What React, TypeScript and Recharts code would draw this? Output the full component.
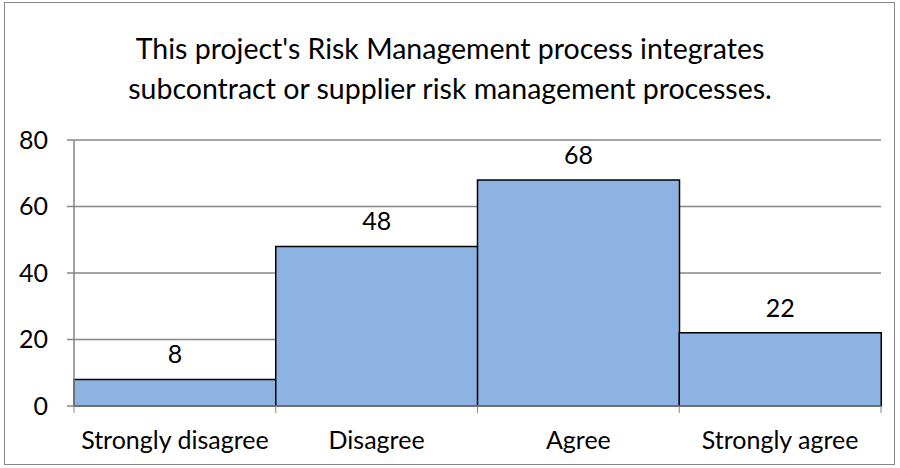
import { BarChart, Bar, XAxis, YAxis, CartesianGrid, LabelList } from 'recharts';

const categories = ['Strongly disagree', 'Disagree', 'Agree', 'Strongly agree'];
const counts = [8, 48, 68, 22];
const yTicks = [0, 20, 40, 60, 80];
const titleLines = [
  "This project's Risk Management process integrates",
  'subcontract or supplier risk management processes.',
];

const data = categories.map((name, i) => ({ name, value: counts[i] }));

const W = 900;
const H = 468;
const LEFT = 74;
const RIGHT = 19;
const FONT = 'Lato, "Open Sans", sans-serif';
const AXIS = '#868686';
const TEXT_SIZE = 25;

const bandWidth = (W - LEFT - RIGHT) / categories.length;

// ticks sit on the category boundaries (Excel style), label in the middle
function CategoryTick(props: any) {
  const { x, y, payload, index } = props;
  const left = x - bandWidth / 2;
  const right = x + bandWidth / 2;
  return (
    <g>
      <line x1={left} y1={y - 8} x2={left} y2={y - 1} stroke={AXIS} />
      {index === categories.length - 1 && (
        <line x1={right} y1={y - 8} x2={right} y2={y - 1} stroke={AXIS} />
      )}
      <text x={x} y={y + 35} textAnchor="middle" fontSize={TEXT_SIZE} fill="#000" fontFamily={FONT}>
        {payload.value}
      </text>
    </g>
  );
}

export default function App() {
  return (
    <div style={{ position: 'absolute', left: 0, top: 0, width: W, height: H, background: '#fff' }}>
      <div
        style={{
          position: 'absolute',
          left: 4,
          top: 2,
          width: W - 9,
          height: H - 5,
          border: '1px solid #888',
          boxSizing: 'border-box',
        }}
      />
      <div
        style={{
          position: 'absolute',
          left: 0,
          top: 28,
          width: W,
          textAlign: 'center',
          fontFamily: FONT,
          fontSize: 28.5,
          lineHeight: '40px',
          color: '#000',
        }}
      >
        {titleLines.map((t) => (
          <div key={t}>{t}</div>
        ))}
      </div>
      <BarChart
        width={W}
        height={H}
        data={data}
        margin={{ top: 140, right: RIGHT, bottom: 0, left: 0 }}
        barCategoryGap={0}
        style={{ position: 'absolute', left: 0, top: 0 }}
      >
        <CartesianGrid vertical={false} stroke={AXIS} strokeWidth={1.5} />
        <XAxis
          dataKey="name"
          height={62}
          axisLine={{ stroke: AXIS, strokeWidth: 1.5 }}
          tickLine={false}
          interval={0}
          tick={<CategoryTick />}
        />
        <YAxis
          width={LEFT}
          domain={[0, 80]}
          ticks={yTicks}
          axisLine={{ stroke: AXIS, strokeWidth: 1.5 }}
          tickLine={{ stroke: AXIS, strokeWidth: 1.5 }}
          tickSize={7}
          tick={{ fontSize: TEXT_SIZE, fill: '#000', fontFamily: FONT, dx: -17 }}
        />
        <Bar dataKey="value" fill="#8DB3E2" stroke="#000" strokeWidth={1.5} isAnimationActive={false}>
          <LabelList dataKey="value" position="top" offset={16} fontSize={TEXT_SIZE} fill="#000" fontFamily={FONT} />
        </Bar>
      </BarChart>
    </div>
  );
}
